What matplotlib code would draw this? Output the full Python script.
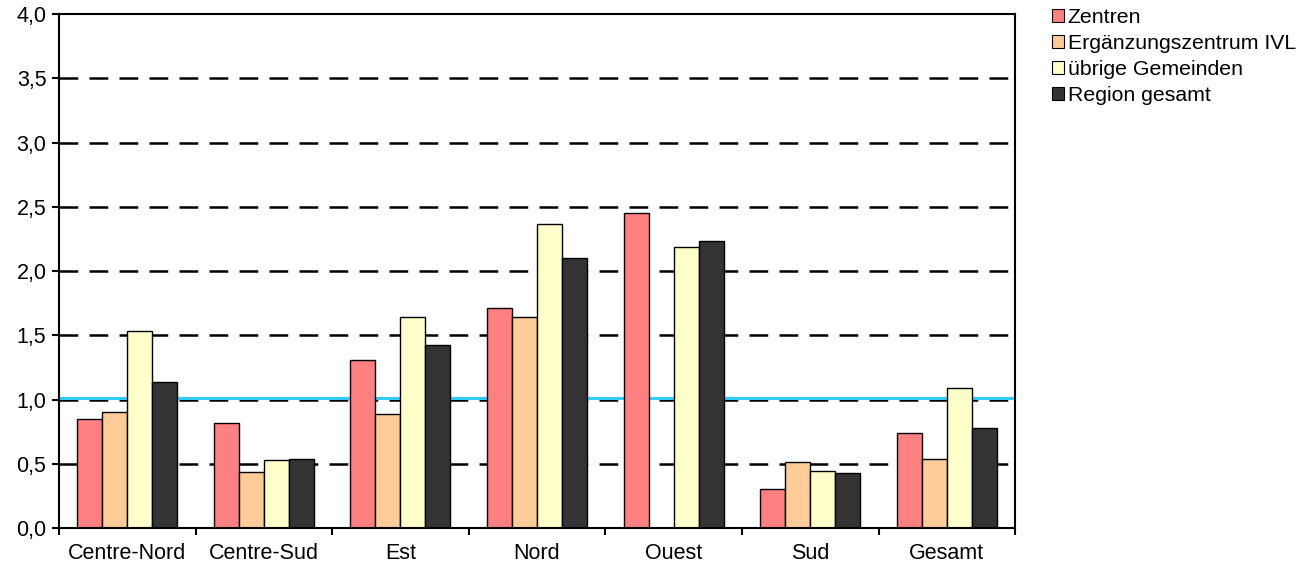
import matplotlib
matplotlib.use("Agg")
import matplotlib.pyplot as plt
import numpy as np

plt.rcParams['font.family'] = ['Liberation Sans', 'DejaVu Sans']

categories = ["Centre-Nord", "Centre-Sud", "Est", "Nord", "Ouest", "Sud", "Gesamt"]
series_names = ["Zentren", "Ergänzungszentrum IVL", "übrige Gemeinden", "Region gesamt"]
zentren = [0.85, 0.82, 1.31, 1.71, 2.45, 0.30, 0.74]
ergaenzung = [0.905, 0.435, 0.89, 1.645, 0.0, 0.51, 0.54]
uebrige = [1.53, 0.53, 1.64, 2.365, 2.19, 0.44, 1.09]
region = [1.135, 0.535, 1.425, 2.105, 2.235, 0.43, 0.775]
reference_line = 1.015
yticks = [0.0, 0.5, 1.0, 1.5, 2.0, 2.5, 3.0, 3.5, 4.0]
ytick_labels = ["0,0", "0,5", "1,0", "1,5", "2,0", "2,5", "3,0", "3,5", "4,0"]

colors = ["#FF8080", "#FFCC99", "#FFFFCC", "#333333"]

fig = plt.figure(figsize=(13.09, 5.62), dpi=100)
ax = fig.add_axes([0.045, 0.0605, 0.7305, 0.9145])

x = np.arange(len(categories))
w = 0.183
data = [zentren, ergaenzung, uebrige, region]
for grid_y in yticks[1:-1]:
    ax.axhline(grid_y, color="black", lw=1.8, dashes=(7.5, 4.5), zorder=1)
ax.axhline(reference_line, color="#33CCFF", lw=2.2, zorder=1.5)

for i, (vals, c, name) in enumerate(zip(data, colors, series_names)):
    xs = x + (i - 1.5) * w
    v = np.array(vals)
    mask = v > 0
    ax.bar(xs[mask], v[mask], width=w, color=c, edgecolor="black", linewidth=1.0, zorder=2)
    ax.bar([np.nan], [0], width=w, color=c, edgecolor="black", linewidth=0.8, label=name)

ax.set_xlim(-0.5, len(categories) - 0.5)
ax.set_ylim(0, 4.0)
ax.set_yticks(yticks)
ax.set_yticklabels(ytick_labels, fontsize=15.5)
ax.set_xticks(x)
ax.set_xticklabels(categories, fontsize=15.5)
ax.tick_params(axis="x", which="major", length=0, pad=11)
ax.set_xticks(np.arange(-0.5, len(categories)), minor=True)
ax.tick_params(axis="x", which="minor", length=5, width=1.5, direction="out")
ax.tick_params(axis="y", length=5, width=1.5, direction="out", pad=4)
for s in ax.spines.values():
    s.set_linewidth(1.5)

leg = fig.legend(loc="upper left", bbox_to_anchor=(0.792, 1.012), frameon=False,
                 fontsize=15.3, handlelength=0.6, handleheight=0.6, handletextpad=0.15,
                 labelspacing=0.33, borderpad=0.2)

fig.savefig("out.png", dpi=100)
